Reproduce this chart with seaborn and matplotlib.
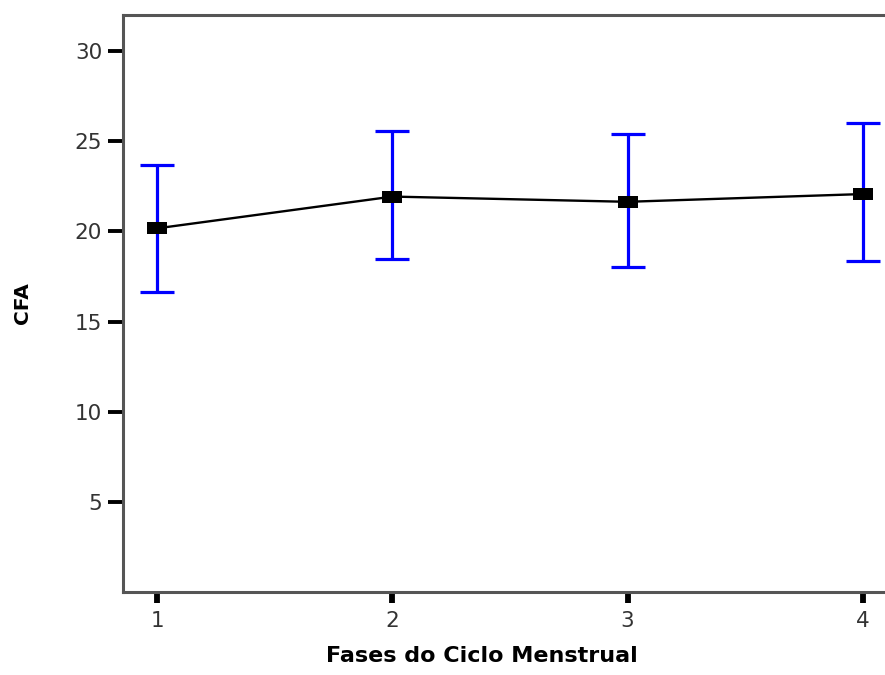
import matplotlib
matplotlib.use("Agg")
import matplotlib.pyplot as plt
import seaborn as sns
import numpy as np
import pandas as pd

# Data
fases = [1, 2, 3, 4]
cfa_mean = [20.17, 21.93, 21.64, 22.07]
ci_upper = [23.70, 25.57, 25.40, 26.00]
ci_lower = [16.64, 18.46, 18.00, 18.35]
y_ticks = [5, 10, 15, 20, 25, 30]

df = pd.DataFrame({"Fase": fases, "CFA": cfa_mean})

sns.set_style("white")
plt.rcParams["font.family"] = ["DejaVu Sans"]

fig = plt.figure(figsize=(8.85, 6.75), dpi=100)
ax = fig.add_axes([123 / 885, 83 / 675, 774 / 885, 577 / 675])

mean = np.array(cfa_mean)
err = np.vstack([mean - np.array(ci_lower), np.array(ci_upper) - mean])
ax.errorbar(fases, cfa_mean, yerr=err, fmt="none", ecolor="#0000ff",
            elinewidth=2.3, capsize=12, capthick=2.3, zorder=2)

rect = [(-1, -0.63), (1, -0.63), (1, 0.63), (-1, 0.63)]
sns.lineplot(data=df, x="Fase", y="CFA", ax=ax, color="black", linewidth=1.7,
             marker=rect, markersize=14, markeredgewidth=0,
             markerfacecolor="black", zorder=3)

ax.set_xlim(0.854, 4.146)
ax.set_ylim(0, 32)
ax.set_xticks(fases)
ax.set_xticklabels([str(f) for f in fases])
ax.set_yticks(y_ticks)
ax.set_yticklabels([str(t) for t in y_ticks])

for side in ["left", "top", "bottom"]:
    ax.spines[side].set_visible(True)
    ax.spines[side].set_color("#555555")
    ax.spines[side].set_linewidth(2.2)
ax.spines["right"].set_visible(False)

ax.tick_params(axis="y", direction="out", length=11, width=2.8, color="black",
               pad=4, labelsize=15.5, labelcolor="#333333", left=True)
ax.tick_params(axis="x", direction="out", length=8, width=4.2, color="black",
               pad=6, labelsize=15.5, labelcolor="#333333", bottom=True)

ax.set_xlabel("Fases do Ciclo Menstrual", fontsize=16, fontweight="bold",
              color="black")
ax.xaxis.set_label_coords(0.464, -0.093)
ax.set_ylabel("CFA", fontsize=14.5, fontweight="bold", color="black")
ax.yaxis.set_label_coords(-0.118, 0.5)

fig.savefig("out.png", dpi=100, facecolor="white")
